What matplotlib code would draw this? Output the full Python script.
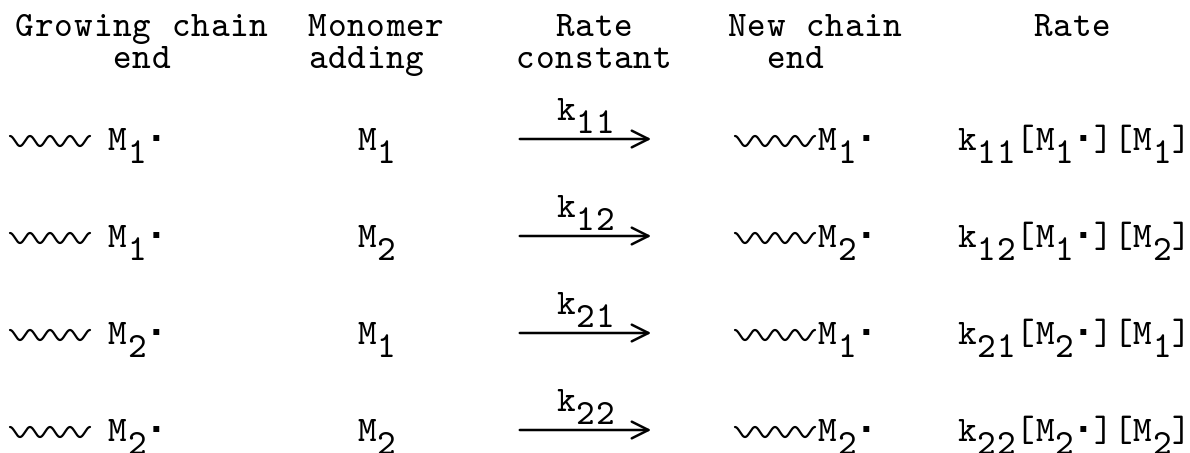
import matplotlib
matplotlib.use("Agg")
import matplotlib.pyplot as plt
import numpy as np
from matplotlib.patches import FancyArrowPatch

# table content ("_" puts the next character in subscript position)
header_top = ["Growing chain", "Monomer", "  Rate", "New chain", "Rate"]
header_bottom = ["     end", "adding", "constant", "  end", ""]
growing_end = ["M_1·", "M_1·", "M_2·", "M_2·"]
monomer = ["M_1", "M_2", "M_1", "M_2"]
rate_const = ["k_1_1", "k_1_2", "k_2_1", "k_2_2"]
new_end = ["M_1·", "M_2·", "M_1·", "M_2·"]
rate = ["k_1_1[M_1·][M_1]", "k_1_2[M_1·][M_2]",
        "k_2_1[M_2·][M_1]", "k_2_2[M_2·][M_2]"]

FONT = "cmtt10"           # typewriter face shipped with matplotlib
FS = 25.5
ADV = 19.5                # px per character cell
SUB = 13                  # subscript drop, px

header_x = [15, 308, 516, 727, 1033]
head_y = [36, 68]
row_y = [150, 247, 344, 441]


def typeset(ax, x, y, s):
    """monospaced text, '_' lowers the following char"""
    i, col = 0, 0
    while i < len(s):
        sub = s[i] == "_"
        if sub:
            i += 1
        ch = s[i]
        yy = y + (SUB if sub else 0)
        if ch == "·":
            ax.text(x + col * ADV + 3, y, ch, fontsize=24, family="DejaVu Sans",
                    weight="bold", ha="left", va="baseline", color="black")
        elif ch != " ":
            ax.text(x + col * ADV, yy, ch, fontsize=FS, family=FONT,
                    ha="left", va="baseline", color="black")
        col += 1
        i += 1


def squiggle(ax, x, y):
    t = np.linspace(0, 1, 200)
    ax.plot(x + 80 * t, y - 9 - 5 * np.cos(2 * np.pi * 4 * t), color="black",
            lw=1.6, solid_capstyle="round")


fig = plt.figure(figsize=(11.9, 4.53), dpi=100)
ax = fig.add_axes([0, 0, 1, 1])
ax.set_xlim(0, 1190)
ax.set_ylim(453, 0)
ax.axis("off")

for x, top, bot in zip(header_x, header_top, header_bottom):
    typeset(ax, x, head_y[0], top)
    typeset(ax, x, head_y[1], bot)

for y, g, m, k, n, r in zip(row_y, growing_end, monomer, rate_const, new_end, rate):
    squiggle(ax, 10, y)
    typeset(ax, 108, y, g)
    typeset(ax, 357, y, m)
    typeset(ax, 556, y - 30, k)
    arr = FancyArrowPatch((517, y - 11), (654, y - 11),
                          arrowstyle="->,head_length=0.6,head_width=0.3",
                          mutation_scale=20, lw=1.8, color="black")
    ax.add_patch(arr)
    squiggle(ax, 735, y)
    typeset(ax, 818, y, n)
    typeset(ax, 957, y, r)

fig.savefig("out.png", dpi=100, facecolor="white")
